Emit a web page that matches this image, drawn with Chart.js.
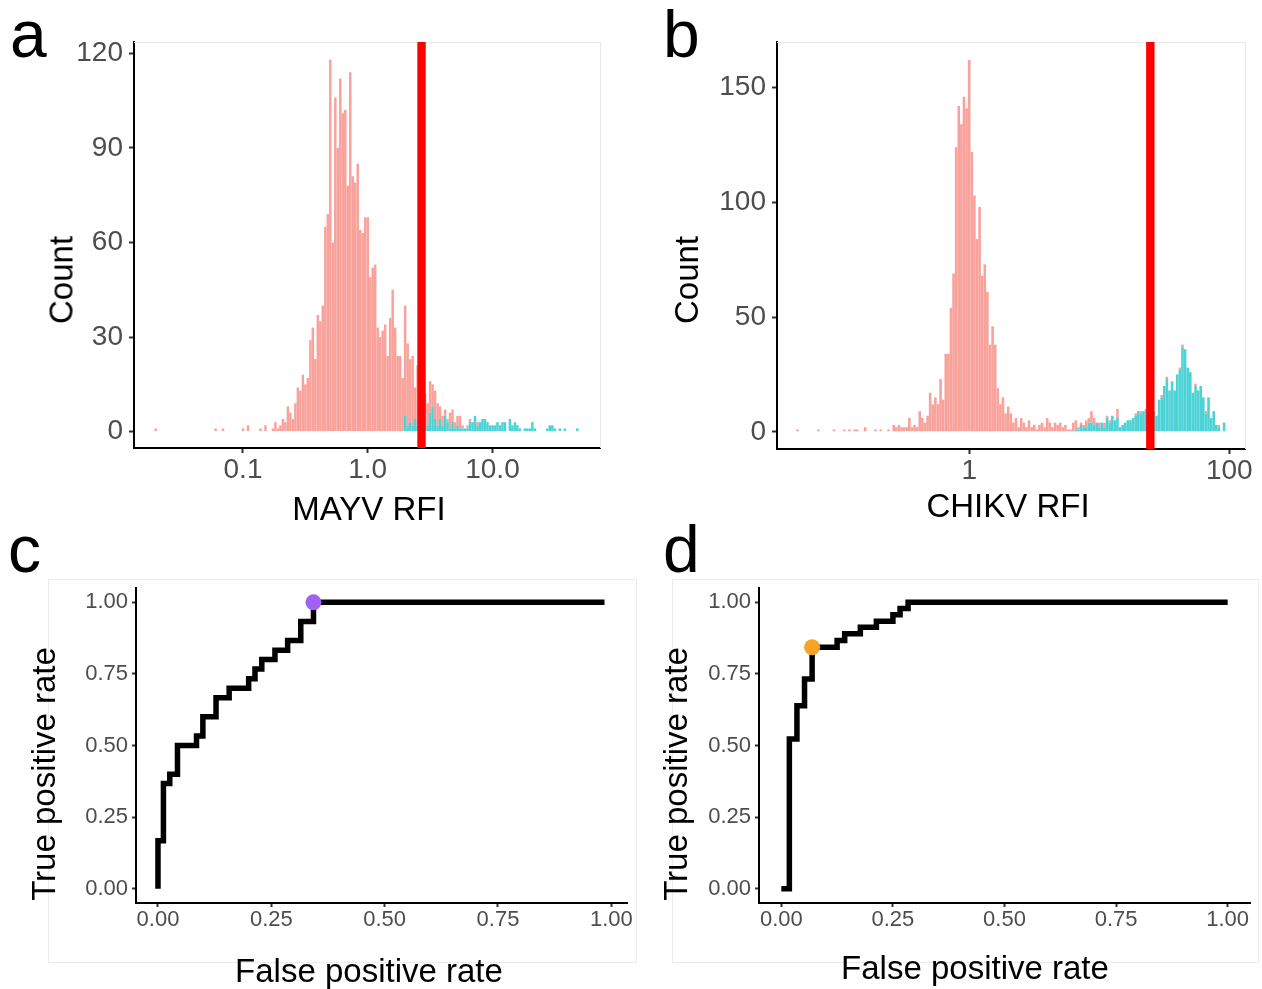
<!DOCTYPE html>
<html>
<head>
<meta charset="utf-8">
<script src="https://cdn.jsdelivr.net/npm/chart.js@4.4.1/dist/chart.umd.min.js"></script>
<style>
  body { margin: 0; background: #fff; }
  #page { position: relative; width: 1262px; height: 989px; overflow: hidden;
          font-family: "Liberation Sans", Arial, sans-serif; }
  canvas { position: absolute; }
  .tag { position: absolute; font-size: 66px; line-height: 1; color: #000; }
  .box { position: absolute; border: 1px solid #ebebeb; box-sizing: border-box; }
  .ttl { position: absolute; font-size: 33px; line-height: 1; color: #000; white-space: nowrap;
         transform: translate(-50%, -50%); }
  .ttl.v { transform: translate(-50%, -50%) rotate(-90deg); }
</style>
</head>
<body>
<div id="page">
  <div class="box" style="left:48px;top:579px;width:589px;height:384px"></div>
  <div class="box" style="left:672px;top:579px;width:587px;height:384px"></div>

  <canvas id="chartA" width="575" height="507" style="left:40px;top:19px"></canvas>
  <canvas id="chartB" width="595" height="504" style="left:665px;top:19px"></canvas>
  <canvas id="chartC" width="620" height="418" style="left:20px;top:570px"></canvas>
  <canvas id="chartD" width="608" height="415" style="left:650px;top:570px"></canvas>

  <div class="tag" style="left:10px;top:1px">a</div>
  <div class="tag" style="left:663px;top:1px">b</div>
  <div class="tag" style="left:8px;top:516px">c</div>
  <div class="tag" style="left:663px;top:516px">d</div>

  <div class="ttl" style="left:369px;top:508px">MAYV RFI</div>
  <div class="ttl v" style="left:61px;top:280px">Count</div>
  <div class="ttl" style="left:1008px;top:505px">CHIKV RFI</div>
  <div class="ttl v" style="left:686px;top:280px">Count</div>
  <div class="ttl" style="left:369px;top:970px">False positive rate</div>
  <div class="ttl v" style="left:43px;top:774px">True positive rate</div>
  <div class="ttl" style="left:975px;top:967px">False positive rate</div>
  <div class="ttl v" style="left:675px;top:774px">True positive rate</div>
</div>
<script>
Chart.defaults.font.family = '"Liberation Sans", Arial, sans-serif';

// histogram bins: width in log10 units, first bin centre in log10 units
const binWidth = 0.02;

// MAYV RFI histogram (negatives / positives per bin)
const mayvBinStart = -1.70;
const mayvNeg = [
  1,0,0,0,0,0,0,0,0,0,
  0,0,0,0,0,0,0,0,0,0,
  0,0,0,0,1,0,0,1,0,0,
  0,0,0,0,0,1,0,2,0,0,
  0,0,1,0,2,0,0,1,3,1,
  2,4,3,8,6,4,9,14,13,18,
  15,17,29,33,23,37,35,40,65,69,
  118,60,106,90,112,101,102,78,114,81,
  79,85,64,63,68,68,49,52,53,33,
  30,32,34,24,36,45,33,24,24,17,
  35,26,20,22,10,19,11,9,8,7,
  10,7,9,7,4,3,2,1,5,4,
  2,3,4,1,0,1,1,0,0,1,
  0,0,0,0,0,0,0,0,0,0,
  0,0,0,0,0,0,0,0,0,0,
  0,0,0,0,0,0,0,0,0,0,
  0,0,0,0,0,0,0,0,0,0
];
const mayvPos = [
  0,0,0,0,0,0,0,0,0,0,
  0,0,0,0,0,0,0,0,0,0,
  0,0,0,0,0,0,0,0,0,0,
  0,0,0,0,0,0,0,0,0,0,
  0,0,0,0,0,0,0,0,0,0,
  0,0,0,0,0,0,0,0,0,0,
  0,0,0,0,0,0,0,0,0,0,
  0,0,0,0,0,0,0,0,0,0,
  0,0,0,0,0,0,0,0,0,0,
  0,0,0,0,0,0,0,0,0,0,
  5,2,3,2,4,2,3,2,4,2,
  6,8,4,2,4,2,5,3,1,3,
  1,2,1,1,1,1,3,3,5,2,
  3,4,4,3,2,2,2,3,2,3,
  3,0,4,2,3,2,1,0,1,1,
  1,3,1,0,0,0,0,1,2,2,
  1,0,1,0,1,0,0,0,0,1
];
const mayvCutoff = 2.7;
const mayvTicks = [0.1, 1, 10];
const mayvTickLabels = ['0.1', '1.0', '10.0'];
const mayvCountTicks = [0, 30, 60, 90, 120];

// CHIKV RFI histogram
const chikvBinStart = -1.32;
const chikvNeg = [
  1,0,0,0,0,0,0,0,1,0,
  0,0,0,0,1,0,0,0,1,0,
  1,0,1,1,0,0,2,0,0,0,
  1,0,1,0,0,1,0,3,2,3,
  2,2,2,6,2,3,2,9,6,4,
  7,17,12,15,12,23,14,34,34,54,
  69,124,142,134,146,141,162,122,103,84,
  98,68,73,61,38,46,38,19,12,15,
  8,11,8,4,6,2,6,4,2,5,
  2,3,1,3,4,2,6,4,2,4,
  3,4,2,3,1,1,4,4,1,1,
  1,3,2,5,3,0,2,0,2,1,
  1,0,0,4,0,0,0,0,0,0,
  1,0,1,0,0,0,0,0,0,0,
  1,0,1,0,0,0,0,1,1,0,
  0,0,0,1,0,0,0,1,0,0,
  0,0,1,0,0
];
const chikvPos = [
  0,0,0,0,0,0,0,0,0,0,
  0,0,0,0,0,0,0,0,0,0,
  0,0,0,0,0,0,0,0,0,0,
  0,0,0,0,0,0,0,0,0,0,
  0,0,0,0,0,0,0,0,0,0,
  0,0,0,0,0,0,0,0,0,0,
  0,0,0,0,0,0,0,0,0,0,
  0,0,0,0,0,0,0,0,0,0,
  0,0,0,0,0,0,0,0,0,0,
  0,0,0,0,0,0,0,0,0,0,
  0,0,0,0,0,0,0,1,1,3,
  2,2,4,4,3,4,2,4,2,6,
  4,7,5,6,2,3,4,5,5,6,
  7,9,8,9,10,11,10,9,7,14,
  15,20,23,18,22,18,25,27,37,36,
  28,26,17,20,18,20,15,8,15,6,
  9,3,2,0,4
];
const chikvCutoff = 24.7;
const chikvTicks = [1, 100];
const chikvTickLabels = ['1', '100'];
const chikvCountTicks = [0, 50, 100, 150];

// ROC curves
const rocTicks = [0, 0.25, 0.5, 0.75, 1];
const rocTickLabels = ['0.00', '0.25', '0.50', '0.75', '1.00'];
const mayvFpr = [0, 0, 0.012, 0.026, 0.043, 0.085, 0.099, 0.128, 0.157, 0.200, 0.214, 0.229, 0.258, 0.286, 0.315, 0.343, 0.985];
const mayvTpr = [0, 0.167, 0.367, 0.400, 0.500, 0.533, 0.600, 0.667, 0.700, 0.733, 0.767, 0.800, 0.833, 0.867, 0.933, 1.000, 1.000];
const mayvBest = [0.343, 1.0];
const chikvFpr = [0, 0.018, 0.035, 0.052, 0.069, 0.125, 0.142, 0.177, 0.213, 0.250, 0.266, 0.284, 1.0];
const chikvTpr = [0, 0.523, 0.639, 0.732, 0.843, 0.867, 0.890, 0.913, 0.934, 0.957, 0.978, 1.000, 1.000];
const chikvBest = [0.069, 0.843];

const tickGrey = '#4d4d4d';

const cutoffLine = {
  id: 'cutoff',
  afterDatasetsDraw(chart, args, opts) {
    const { ctx, chartArea: a, scales } = chart;
    const x = scales.x.getPixelForValue(opts.value);
    ctx.save();
    ctx.fillStyle = '#ff0000';
    ctx.fillRect(x - 4.2, a.top, 8.4, a.bottom - a.top);
    ctx.restore();
  }
};

const panelFrame = {
  id: 'panelFrame',
  beforeDatasetsDraw(chart) {
    const { ctx, chartArea: a } = chart;
    ctx.save();
    ctx.strokeStyle = '#e8e8e8';
    ctx.lineWidth = 1;
    ctx.beginPath();
    ctx.moveTo(a.left, a.top + 0.5);
    ctx.lineTo(a.right + 0.5, a.top + 0.5);
    ctx.lineTo(a.right + 0.5, a.bottom);
    ctx.stroke();
    ctx.restore();
  }
};

function axisLook(size, tl, pad) {
  return {
    border: { display: true, color: '#000', width: 2 },
    grid: { display: true, drawOnChartArea: false, drawTicks: true, tickLength: tl, tickWidth: 2, tickColor: '#333', offset: false },
    ticks: { color: tickGrey, font: { size: size }, padding: pad, autoSkip: false, maxRotation: 0 }
  };
}

function histChart(id, o) {
  const centres = o.neg.map((_, i) => Math.pow(10, o.start + i * binWidth));
  const toXY = arr => arr.map((v, i) => ({ x: centres[i], y: v }));
  const xs = axisLook(28, 5, 0);
  const ys = axisLook(28, 5, 6);
  return new Chart(document.getElementById(id), {
    type: 'bar',
    data: {
      datasets: [
        { label: 'positive', data: toXY(o.pos), backgroundColor: '#4dd2d6' },
        { label: 'negative', data: toXY(o.neg), backgroundColor: '#f9a29c' }
      ]
    },
    options: {
      responsive: false,
      animation: false,
      devicePixelRatio: 1,
      layout: { padding: { top: o.padTop, right: o.padRight, left: 0, bottom: 0 } },
      datasets: { bar: { barPercentage: 1, categoryPercentage: 1, borderWidth: 0, inflateAmount: 0 } },
      plugins: { legend: { display: false }, tooltip: { enabled: false }, cutoff: { value: o.cutoff } },
      scales: {
        x: Object.assign(xs, {
          type: 'logarithmic', stacked: true, offset: false, min: o.xMin, max: o.xMax,
          afterBuildTicks: s => { s.ticks = o.xTicks.map(v => ({ value: v })); },
          ticks: Object.assign(xs.ticks, { callback: (v, i) => o.xLabels[i] }),
          afterFit: s => { s.height = o.xH; }
        }),
        y: Object.assign(ys, {
          type: 'linear', stacked: true, min: o.yMin, max: o.yMax,
          afterBuildTicks: s => { s.ticks = o.yTicks.map(v => ({ value: v })); },
          ticks: Object.assign(ys.ticks, { callback: v => String(v) }),
          afterFit: s => { s.width = o.yW; }
        })
      }
    },
    plugins: [panelFrame, cutoffLine]
  });
}

function rocChart(id, o) {
  const xs = axisLook(22, 4, 0);
  const ys = axisLook(22, 4, 4);
  return new Chart(document.getElementById(id), {
    type: 'line',
    data: {
      datasets: [
        { label: 'cutoff', data: [{ x: o.best[0], y: o.best[1] }], showLine: false,
          pointRadius: 8, pointBackgroundColor: o.dot, pointBorderWidth: 0 },
        { label: 'ROC', data: o.fpr.map((x, i) => ({ x: x, y: o.tpr[i] })), stepped: 'before',
          borderColor: '#000', borderWidth: 5.5, pointRadius: 0, fill: false,
          borderCapStyle: 'butt', borderJoinStyle: 'miter' }
      ]
    },
    options: {
      responsive: false,
      animation: false,
      devicePixelRatio: 1,
      layout: { padding: { top: o.padTop, right: o.padRight, left: 0, bottom: 0 } },
      plugins: { legend: { display: false }, tooltip: { enabled: false } },
      scales: {
        x: Object.assign(xs, {
          type: 'linear', min: o.xMin, max: o.xMax,
          afterBuildTicks: s => { s.ticks = rocTicks.map(v => ({ value: v })); },
          ticks: Object.assign(xs.ticks, { callback: (v, i) => rocTickLabels[i] }),
          afterFit: s => { s.height = o.xH; }
        }),
        y: Object.assign(ys, {
          type: 'linear', min: -0.05, max: 1.05,
          afterBuildTicks: s => { s.ticks = rocTicks.map(v => ({ value: v })); },
          ticks: Object.assign(ys.ticks, { callback: (v, i) => rocTickLabels[i] }),
          afterFit: s => { s.width = o.yW; }
        })
      }
    }
  });
}

histChart('chartA', {
  start: mayvBinStart, neg: mayvNeg, pos: mayvPos, cutoff: mayvCutoff,
  xMin: 0.01337, xMax: 72.8, xTicks: mayvTicks, xLabels: mayvTickLabels,
  yMin: -5.2, yMax: 123.6, yTicks: mayvCountTicks,
  padTop: 23, padRight: 15, xH: 78, yW: 94
});
histChart('chartB', {
  start: chikvBinStart, neg: chikvNeg, pos: chikvPos, cutoff: chikvCutoff,
  xMin: 0.0333, xMax: 132, xTicks: chikvTicks, xLabels: chikvTickLabels,
  yMin: -7.5, yMax: 169.9, yTicks: chikvCountTicks,
  padTop: 23, padRight: 15, xH: 74, yW: 112
});
rocChart('chartC', {
  fpr: mayvFpr, tpr: mayvTpr, best: mayvBest, dot: '#a061f5',
  xMin: -0.0485, xMax: 1.0346, padTop: 18, padRight: 13, xH: 85, yW: 116
});
rocChart('chartD', {
  fpr: chikvFpr, tpr: chikvTpr, best: chikvBest, dot: '#f7a325',
  xMin: -0.05, xMax: 1.05, padTop: 18, padRight: 8, xH: 82, yW: 109
});
</script>
</body>
</html>
